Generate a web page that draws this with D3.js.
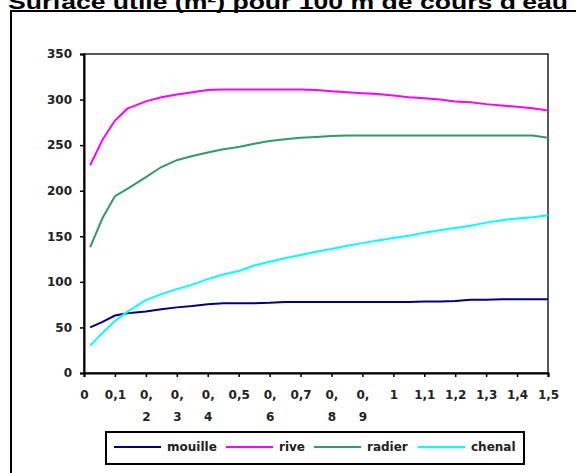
<!DOCTYPE html>
<html><head><meta charset="utf-8">
<script src="https://cdn.jsdelivr.net/npm/d3@7"></script>
<style>body{margin:0;background:#fff;overflow:hidden}svg{display:block}</style>
</head><body>
<script>
const titleText = "Surface utile (m²) pour 100 m de cours d'eau";
const xValues = [0.02,0.06,0.1,0.14,0.2,0.25,0.3,0.35,0.4,0.45,0.5,0.55,0.6,0.65,0.7,0.75,0.8,0.85,0.9,0.95,1.0,1.05,1.1,1.15,1.2,1.25,1.3,1.35,1.4,1.45,1.5];
const mouille = [50,56,63,65.5,67.5,70,72,73.5,75.5,76.5,76.5,76.5,77,78,78,78,78,78,78,78,78,78,78.5,78.5,79,80.5,80.5,81,81,81,81];
const rive    = [228,256,277,290,298,302.5,305.5,308,310.5,311,311,311,311,311,311,310.5,309,308,307,306,304.5,302.5,301.5,300,298,297,295,293.5,292,290.5,288];
const radier  = [138,170,194,202,215,226,233.5,238,242,245.5,248,251.5,254.5,256.5,258,259,260,260.5,260.5,260.5,260.5,260.5,260.5,260.5,260.5,260.5,260.5,260.5,260.5,260.5,258];
const chenal  = [30,44,57,67,80,86.5,92,97,103,108,112,118,122,126,129.5,133,136,139.5,142.5,145.5,148,150.5,154,156.5,159,161.5,165,167.5,169.5,171,173];
const seriesNames = ["mouille","rive","radier","chenal"];
const seriesColors = ["#000080","#FF00FF","#339966","#00FFFF"];
const seriesData = [mouille, rive, radier, chenal];
const xTicks = [0,0.1,0.2,0.3,0.4,0.5,0.6,0.7,0.8,0.9,1,1.1,1.2,1.3,1.4,1.5];
const xTickLabels = ["0","0,1","0,|2","0,|3","0,|4","0,5","0,|6","0,7","0,|8","0,|9","1","1,1","1,2","1,3","1,4","1,5"];
const yTicks = [0,50,100,150,200,250,300,350];

const W = 576, H = 473;
const svg = d3.select("body").append("svg").attr("width", W).attr("height", H);
const font = "'DejaVu Sans', sans-serif";
const fs = 12;

// outer chart frame
svg.append("rect").attr("x", 11).attr("y", 11).attr("width", 620).attr("height", 520)
  .attr("fill", "#fff").attr("stroke", "#000").attr("stroke-width", 2);

// title (clipped at top, as in the original)
svg.append("text").attr("x", 8).attr("y", 9)
  .attr("font-family", "'Liberation Sans', Arial, sans-serif").attr("font-weight", "bold")
  .attr("font-size", 21).attr("textLength", 560).attr("lengthAdjust", "spacingAndGlyphs")
  .text(titleText);

const x = d3.scaleLinear().domain([0, 1.5]).range([84, 548]);
const y = d3.scaleLinear().domain([0, 350]).range([373, 54]);

// plot border
svg.append("rect").attr("x", x(0)).attr("y", y(350)).attr("width", x(1.5) - x(0)).attr("height", y(0) - y(350))
  .attr("fill", "none").attr("stroke", "#222").attr("stroke-width", 1.5);

// y axis
const yAxis = svg.append("g").attr("transform", `translate(${x(0)},0)`)
  .call(d3.axisLeft(y).tickValues(yTicks).tickSize(4).tickPadding(8).tickFormat(d3.format("d")));
yAxis.select(".domain").attr("stroke", "#000").attr("stroke-width", 2);
yAxis.selectAll(".tick line").attr("stroke", "#000").attr("stroke-width", 1.5);
yAxis.selectAll("text").attr("font-family", font).attr("font-size", fs).attr("font-weight", "bold").attr("fill", "#222");

// x axis
const xAxis = svg.append("g").attr("transform", `translate(0,${y(0)})`)
  .call(d3.axisBottom(x).tickValues(xTicks).tickSize(4).tickFormat(""));
xAxis.select(".domain").attr("stroke", "#000").attr("stroke-width", 2);
xAxis.selectAll(".tick line").attr("stroke", "#000").attr("stroke-width", 1.5);
xAxis.selectAll(".tick").each(function(d, i) {
  const parts = xTickLabels[i].split("|");
  const t = d3.select(this).append("text").attr("font-family", font).attr("font-size", fs)
    .attr("font-weight", "bold").attr("fill", "#222").attr("text-anchor", "middle");
  parts.forEach((p, j) => t.append("tspan").attr("x", 0).attr("y", 26 + j * 22).text(p));
});

// lines
const line = d3.line().x((d, i) => x(xValues[i])).y(d => y(d));
seriesData.forEach((s, k) => {
  svg.append("path").datum(s).attr("d", line).attr("fill", "none")
    .attr("stroke", seriesColors[k]).attr("stroke-width", 2);
});

// legend
const lg = svg.append("g");
lg.append("rect").attr("x", 106).attr("y", 432).attr("width", 418).attr("height", 32)
  .attr("fill", "#fff").attr("stroke", "#000").attr("stroke-width", 2);
const legendX = [114, 226, 314, 418];
seriesNames.forEach((n, k) => {
  lg.append("line").attr("x1", legendX[k]).attr("x2", legendX[k] + 47).attr("y1", 447).attr("y2", 447)
    .attr("stroke", seriesColors[k]).attr("stroke-width", 2);
  lg.append("text").attr("x", legendX[k] + 53).attr("y", 451).attr("font-family", font)
    .attr("font-size", fs).attr("font-weight", "bold").attr("fill", "#222").text(n);
});
</script>
</body></html>
